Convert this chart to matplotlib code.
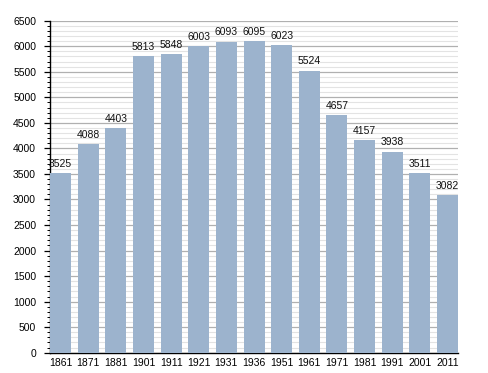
import matplotlib
matplotlib.use("Agg")
import matplotlib.pyplot as plt
from matplotlib.ticker import MultipleLocator

years = ["1861", "1871", "1881", "1901", "1911", "1921", "1931", "1936",
         "1951", "1961", "1971", "1981", "1991", "2001", "2011"]
population = [3525, 4088, 4403, 5813, 5848, 6003, 6093, 6095,
              6023, 5524, 4657, 4157, 3938, 3511, 3082]

plt.rcParams['font.family'] = ['Liberation Sans', 'DejaVu Sans']

fig = plt.figure(figsize=(4.88, 3.73), dpi=100)
ax = fig.add_axes([0.1025, 0.0544, 0.836, 0.890])

width = 0.76
x = list(range(len(years)))
bars = ax.bar(x, population, width=width, color='#9cb3cd', zorder=3)

for xi, v in zip(x, population):
    ax.annotate(str(v), (xi, v), xytext=(0, 3), textcoords='offset points',
                ha='center', va='bottom', fontsize=7.5, color='#111111', zorder=4)

ax.set_xlim(-width / 2, len(years) - 1 + width / 2)
ax.set_ylim(0, 6500)
ax.yaxis.set_major_locator(MultipleLocator(500))
ax.yaxis.set_minor_locator(MultipleLocator(100))
ax.set_xticks(x)
ax.set_xticklabels(years)

ax.grid(axis='y', which='major', color='#b0b0b0', linewidth=0.9, zorder=0)
ax.grid(axis='y', which='minor', color='#e3e3e3', linewidth=0.8, zorder=0)
ax.set_axisbelow(True)

for side in ['top', 'right']:
    ax.spines[side].set_visible(False)
ax.spines['left'].set_color('black')
ax.spines['bottom'].set_color('black')
ax.spines['left'].set_linewidth(1.0)
ax.spines['bottom'].set_linewidth(1.0)

ax.tick_params(axis='y', which='major', length=4, width=0.9, labelsize=7.5, pad=6)
ax.tick_params(axis='y', which='minor', length=2, width=0.7)
ax.tick_params(axis='x', which='both', length=0, labelsize=7.5, pad=4)

fig.savefig("out.png", dpi=100, facecolor='white')
